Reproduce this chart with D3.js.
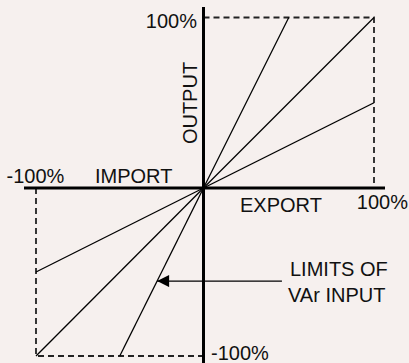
<!DOCTYPE html>
<html>
<head>
<meta charset="utf-8">
<script src="https://cdn.jsdelivr.net/npm/d3@7"></script>
<style>
  html, body { margin: 0; padding: 0; background: #f6f0ee; }
  svg { display: block; font-family: "Liberation Sans", Arial, sans-serif; }
</style>
</head>
<body>
<div id="chart"></div>
<script>
// limit lines run from the origin to these end points (percent)
const lineEndX = [50, 100, 100, -100, -100, -50];
const lineEndY = [100, 100, 50, -50, -100, -100];

// dashed 100% boxes (Q1 and Q3)
const boxX = [[0, 100, 100], [-100, -100, 0]];
const boxY = [[100, 100, 0], [0, -100, -100]];

const tickLabels = ["100%", "-100%"];
const axisLabels = ["IMPORT", "EXPORT", "OUTPUT"];
const noteLines = ["LIMITS OF", "VAr INPUT"];

// arrow points at the steep Q3 limit line
const arrowFrom = [46, -55.4];
const arrowTo = [-27.7, -55.4];

const width = 409, height = 363;

const svg = d3.select("#chart")
  .append("svg")
  .attr("width", width)
  .attr("height", height);

// scales (zero is slightly off centre in the original)
const x = d3.scaleLinear().domain([-100, 0, 100]).range([36, 203.5, 374]);
const y = d3.scaleLinear().domain([-100, 0, 100]).range([356, 188, 17.5]);

svg.append("defs").append("marker")
  .attr("id", "head")
  .attr("viewBox", "0 0 10 10")
  .attr("refX", 10)
  .attr("refY", 5)
  .attr("markerWidth", 17)
  .attr("markerHeight", 12)
  .attr("markerUnits", "userSpaceOnUse")
  .attr("orient", "auto")
  .append("path")
  .attr("d", "M0,0L10,5L0,10Z")
  .attr("fill", "#000");

// dashed boxes
const line = d3.line().x(d => x(d[0])).y(d => y(d[1]));
svg.append("g").selectAll("path")
  .data(boxX.map((xs, i) => xs.map((v, j) => [v, boxY[i][j]])))
  .enter()
  .append("path")
  .attr("d", line)
  .attr("fill", "none")
  .attr("stroke", "#222")
  .attr("stroke-width", 1.8)
  .attr("stroke-dasharray", "6,4");

// limit lines
svg.append("g").selectAll("line")
  .data(lineEndX.map((v, i) => [v, lineEndY[i]]))
  .enter()
  .append("line")
  .attr("x1", x(0))
  .attr("y1", y(0))
  .attr("x2", d => x(d[0]))
  .attr("y2", d => y(d[1]))
  .attr("stroke", "#000")
  .attr("stroke-width", 1.3);

// axes
svg.append("line")
  .attr("x1", 24).attr("x2", 385)
  .attr("y1", y(0)).attr("y2", y(0))
  .attr("stroke", "#000").attr("stroke-width", 3);

svg.append("line")
  .attr("x1", x(0)).attr("x2", x(0))
  .attr("y1", 7).attr("y2", height)
  .attr("stroke", "#000").attr("stroke-width", 3);

// arrow
svg.append("line")
  .attr("x1", x(arrowFrom[0]))
  .attr("y1", y(arrowFrom[1]))
  .attr("x2", x(arrowTo[0]))
  .attr("y2", y(arrowTo[1]))
  .attr("stroke", "#000")
  .attr("stroke-width", 1.3)
  .attr("marker-end", "url(#head)");

// texts
const text = (s, tx, ty, anchor) => svg.append("text")
  .text(s)
  .attr("x", tx)
  .attr("y", ty)
  .attr("text-anchor", anchor || "start")
  .attr("font-size", "20px")
  .attr("fill", "#111");

text(tickLabels[0], 197, 27.5, "end");
text(tickLabels[1], 6.5, 183);
text(tickLabels[0], 408, 209, "end");
text(tickLabels[1], 211, 360);

text(axisLabels[0], 95, 183);
text(axisLabels[1], 240, 211.5);
svg.append("text")
  .text(axisLabels[2])
  .attr("transform", "translate(196.5,103) rotate(-90)")
  .attr("text-anchor", "middle")
  .attr("font-size", "20px")
  .attr("fill", "#111");

text(noteLines[0], 290, 276);
text(noteLines[1], 288, 302);
</script>
</body>
</html>
